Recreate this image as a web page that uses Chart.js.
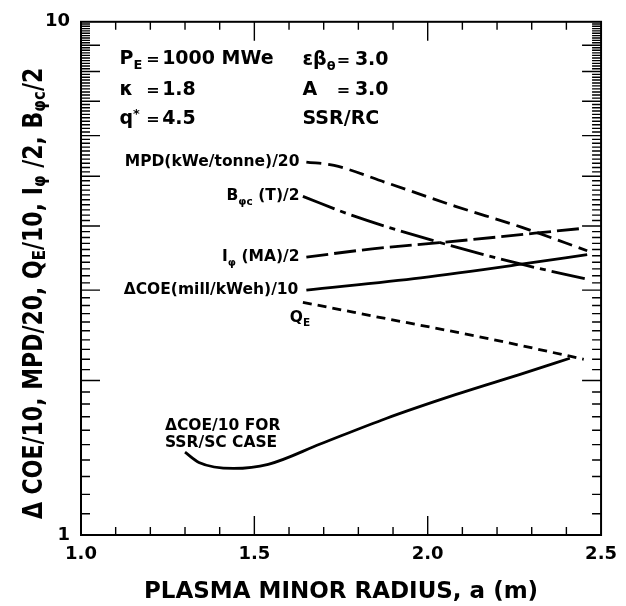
<!DOCTYPE html>
<html><head><meta charset="utf-8">
<script src="https://cdn.jsdelivr.net/npm/chart.js@4"></script>
<style>html,body{margin:0;padding:0;background:#fff;}canvas{display:block;}</style>
</head><body>
<canvas id="c" width="626" height="606"></canvas>
<script>
// ---- data ----
const mpdX = [1.65, 1.73, 1.88, 2.08, 2.27, 2.46];
const mpdY = [5.33, 5.25, 4.86, 4.37, 3.98, 3.58];
const bX   = [1.64, 1.78, 2.05, 2.27, 2.46];
const bY   = [4.57, 4.20, 3.69, 3.37, 3.15];
const iX   = [1.65, 1.84, 2.05, 2.45];
const iY   = [3.48, 3.61, 3.72, 3.96];
const coeX = [1.65, 1.98, 2.27, 2.46];
const coeY = [3.00, 3.17, 3.37, 3.52];
const qeX  = [1.64, 1.88, 2.18, 2.45];
const qeY  = [2.84, 2.64, 2.41, 2.20];
const scX  = [1.30, 1.34, 1.44, 1.54, 1.69, 1.88, 2.08, 2.28, 2.41];
const scY  = [1.45, 1.385, 1.348, 1.373, 1.504, 1.687, 1.877, 2.07, 2.21];
const xTickValues = [1.0, 1.5, 2.0, 2.5];
const yTickValues = [1, 10];
const yTickLabels = ['1', '10'];
const xTitle = 'PLASMA MINOR RADIUS, a (m)';

const FONT = '"DejaVu Sans", sans-serif';
const pts = (xs, ys) => xs.map((x, i) => ({x, y: ys[i]}));

function ds(label, xs, ys, dash) {
  return {label, data: pts(xs, ys), borderColor: '#000', borderWidth: 2.8,
    borderDash: dash, pointRadius: 0, cubicInterpolationMode: 'monotone', fill: false};
}

// annotation texts (positions in data units)
const notes = [
  {x: 1.111, y: 8.29, size: 19, segs: [['P'], ['E', 'sub']]},
  {x: 1.188, y: 8.29, size: 16, segs: [['=']]},
  {x: 1.234, y: 8.29, size: 19, segs: [['1000 MWe']]},
  {x: 1.111, y: 7.19, size: 19, segs: [['κ']]},
  {x: 1.188, y: 7.19, size: 16, segs: [['=']]},
  {x: 1.234, y: 7.19, size: 19, segs: [['1.8']]},
  {x: 1.111, y: 6.31, size: 19, segs: [['q'], ['*', 'sup']]},
  {x: 1.188, y: 6.31, size: 16, segs: [['=']]},
  {x: 1.234, y: 6.31, size: 19, segs: [['4.5']]},
  {x: 1.639, y: 8.25, size: 19, segs: [['εβ'], ['θ', 'sub']]},
  {x: 1.738, y: 8.25, size: 16, segs: [['=']]},
  {x: 1.790, y: 8.25, size: 19, segs: [['3.0']]},
  {x: 1.639, y: 7.19, size: 19, segs: [['A']]},
  {x: 1.738, y: 7.19, size: 16, segs: [['=']]},
  {x: 1.790, y: 7.19, size: 19, segs: [['3.0']]},
  {x: 1.639, y: 6.31, size: 19, segs: [['SSR/RC']]},
  {x: 1.630, y: 5.24, size: 15.5, align: 'right', segs: [['MPD(kWe/tonne)/20']]},
  {x: 1.630, y: 4.49, size: 15.5, align: 'right', segs: [['B'], ['φc', 'sub'], [' (T)/2']]},
  {x: 1.630, y: 3.42, size: 15.5, align: 'right', segs: [['I'], ['φ', 'sub'], [' (MA)/2']]},
  {x: 1.627, y: 2.946, size: 15.5, align: 'right', segs: [['ΔCOE(mill/kWeh)/10']]},
  {x: 1.602, y: 2.603, size: 15.5, segs: [['Q'], ['E', 'sub']]},
  {x: 1.242, y: 1.599, size: 15.5, segs: [['ΔCOE/10 FOR']]},
  {x: 1.242, y: 1.486, size: 15.5, segs: [['SSR/SC CASE']]}
];
const yTitleSegs = [['Δ COE/10, MPD/20, Q'], ['E', 'sub'], ['/10, I'], ['φ', 'sub'], [' /2, B'], ['φc', 'sub'], ['/2']];

function drawRich(ctx, segs, x, y, align, size, subDy) {
  const subSize = size * 0.68;
  let w = 0;
  const widths = segs.map(s => {
    ctx.font = 'bold ' + (s[1] ? subSize : size) + 'px ' + FONT;
    const m = ctx.measureText(s[0]).width; w += m; return m;
  });
  let cx = align === 'right' ? x - w : align === 'center' ? x - w / 2 : x;
  segs.forEach((s, i) => {
    ctx.font = 'bold ' + (s[1] ? subSize : size) + 'px ' + FONT;
    let dy = 0;
    if (s[1] === 'sub') dy = size * (subDy == null ? 0.3 : subDy);
    if (s[1] === 'sup') dy = -size * 0.35;
    ctx.fillText(s[0], cx, y + dy);
    cx += widths[i];
  });
}

const decor = {
  id: 'decor',
  beforeDraw(chart) {
    const ctx = chart.ctx;
    ctx.save(); ctx.fillStyle = '#fff'; ctx.fillRect(0, 0, chart.width, chart.height); ctx.restore();
  },
  afterDraw(chart) {
    const ctx = chart.ctx, a = chart.chartArea;
    const xs = chart.scales.x, ys = chart.scales.y;
    ctx.save();
    ctx.strokeStyle = '#000'; ctx.fillStyle = '#000';
    // frame
    ctx.lineWidth = 2;
    ctx.strokeRect(a.left, a.top, a.right - a.left, a.bottom - a.top);
    // inward ticks
    ctx.lineWidth = 1.4;
    ctx.beginPath();
    for (let i = 11; i < 100; i++) {
      const v = i / 10, p = ys.getPixelForValue(v);
      const L = (i % 10 === 0) ? 19 : 9;
      ctx.moveTo(a.left, p); ctx.lineTo(a.left + L, p);
      ctx.moveTo(a.right, p); ctx.lineTo(a.right - L, p);
    }
    for (let i = 11; i < 25; i++) {
      const v = i / 10, p = xs.getPixelForValue(v);
      const L = (i % 5 === 0) ? 19 : 8;
      ctx.moveTo(p, a.bottom); ctx.lineTo(p, a.bottom - L);
      ctx.moveTo(p, a.top); ctx.lineTo(p, a.top + L);
    }
    ctx.stroke();
    // annotations
    ctx.textBaseline = 'alphabetic';
    notes.forEach(n => {
      drawRich(ctx, n.segs, xs.getPixelForValue(n.x), ys.getPixelForValue(n.y), n.align || 'left', n.size);
    });
    // y axis title (rotated, with subscripts)
    ctx.save();
    ctx.translate(a.left - 39, (a.top + a.bottom) / 2 + 15);
    ctx.rotate(-Math.PI / 2);
    ctx.scale(1, 1.2);
    drawRich(ctx, yTitleSegs, 0, 0, 'center', 22, 0.12);
    ctx.restore();
    ctx.restore();
  }
};

new Chart(document.getElementById('c'), {
  type: 'line',
  data: {
    datasets: [
      ds('MPD(kWe/tonne)/20', mpdX, mpdY, [15, 7]),
      ds('Bφc (T)/2', bX, bY, [34, 6, 6, 6]),
      ds('Iφ (MA)/2', iX, iY, [22, 6]),
      ds('ΔCOE(mill/kWeh)/10', coeX, coeY, []),
      ds('QE', qeX, qeY, [9, 6]),
      ds('ΔCOE/10 FOR SSR/SC CASE', scX, scY, [])
    ]
  },
  options: {
    responsive: false, devicePixelRatio: 1, animation: false,
    layout: {padding: {left: 0, top: 15, right: 19, bottom: 0}},
    plugins: {legend: {display: false}, tooltip: {enabled: false}},
    scales: {
      x: {
        type: 'linear', min: 1, max: 2.5,
        grid: {display: false, drawTicks: false}, border: {display: false},
        afterBuildTicks: s => { s.ticks = xTickValues.map(v => ({value: v})); },
        ticks: {color: '#000', padding: 9, font: {family: FONT, size: 18, weight: 'bold'},
          callback: v => Number(v).toFixed(1)},
        title: {display: true, text: xTitle, color: '#000', padding: {top: 2, bottom: 0},
          font: {family: FONT, size: 23, weight: 'bold'}},
        afterFit: s => { s.height = 71; }
      },
      y: {
        type: 'logarithmic', min: 1, max: 10,
        grid: {display: false, drawTicks: false}, border: {display: false},
        afterBuildTicks: s => { s.ticks = yTickValues.map(v => ({value: v})); },
        ticks: {color: '#000', padding: 11, autoSkip: false, font: {family: FONT, size: 18, weight: 'bold'},
          callback: v => { const k = yTickValues.indexOf(Number(v)); return k >= 0 ? yTickLabels[k] : ''; }},
        afterFit: s => { s.width = 81; }
      }
    }
  },
  plugins: [decor]
});
</script>
</body></html>
